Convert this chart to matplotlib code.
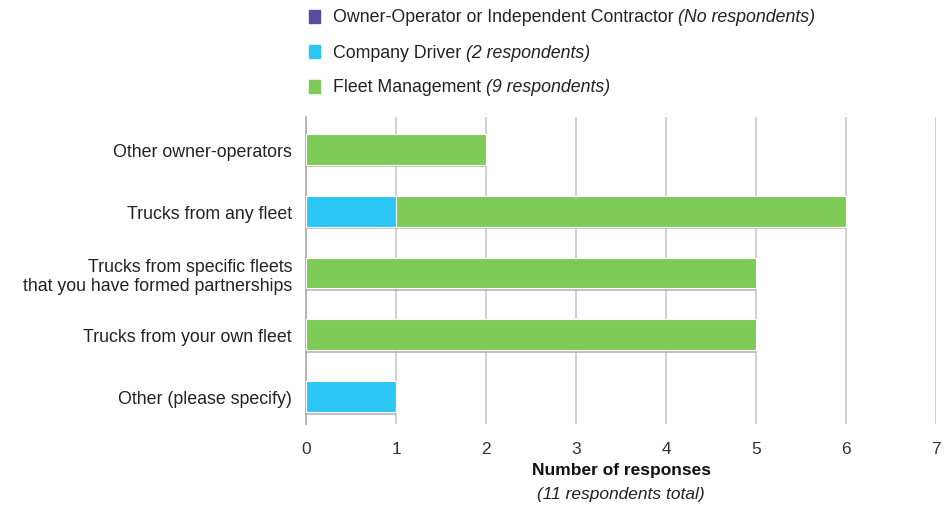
import matplotlib
matplotlib.use("Agg")
import matplotlib.pyplot as plt
import matplotlib.patheffects as pe

plt.rcParams['font.family'] = ['Liberation Sans', 'DejaVu Sans']

categories = ["Other owner-operators", "Trucks from any fleet",
              "Trucks from specific fleets\nthat you have formed partnerships",
              "Trucks from your own fleet", "Other (please specify)"]
owner_operator = [0, 0, 0, 0, 0]
company_driver = [0, 1, 0, 0, 1]
fleet_management = [2, 5, 5, 5, 0]
series_names = ["Owner-Operator or Independent Contractor", "Company Driver", "Fleet Management"]
series_notes = ["(No respondents)", "(2 respondents)", "(9 respondents)"]
colors = ["#5a4b9e", "#2cc6f5", "#7ecb58"]
xticks = [0, 1, 2, 3, 4, 5, 6, 7]

fig = plt.figure(figsize=(9.46, 5.10), dpi=100)
ax = fig.add_axes([306/946, 1-425/510, (936-306)/946, (425-118)/510])

y = list(range(len(categories)))
left = [0]*len(categories)
shadow = [pe.SimplePatchShadow(offset=(0, -2), shadow_rgbFace="#9a9a9a", alpha=0.6), pe.Normal()]
for vals, c in zip([owner_operator, company_driver, fleet_management], colors):
    bars = ax.barh(y, vals, left=left, height=0.5, color=c, edgecolor="white", linewidth=0.8, zorder=3)
    for b, v in zip(bars, vals):
        if v > 0:
            b.set_path_effects(shadow)
    left = [l + v for l, v in zip(left, vals)]

ax.set_xlim(0, 7)
ax.set_ylim(4.44, -0.52)
ax.set_xticks(xticks)
ax.set_xticklabels([str(t) for t in xticks], fontsize=12.5, color="#333333")
ax.set_yticks(y)
ax.set_yticklabels(categories, fontsize=12.8, color="#222222", linespacing=1.15)
ax.tick_params(axis='both', length=0, pad=10)
ax.tick_params(axis='x', pad=12)
ax.grid(axis='x', color="#c8c8c8", linewidth=1.2, zorder=0)
for s in ["top", "right", "bottom"]:
    ax.spines[s].set_visible(False)
ax.spines["left"].set_color("#aaaaaa")
ax.spines["left"].set_linewidth(1.2)

fig.text(621/946, 1-471/510, "Number of responses", ha="center", va="center",
         fontsize=12.5, fontweight="bold", color="#111111")
fig.text(621/946, 1-495/510, "(11 respondents total)", ha="center", va="center",
         fontsize=12.5, style="italic", color="#222222")

# legend
leg_y = [18, 53, 88]
for yy, name, note, c in zip(leg_y, series_names, series_notes, colors):
    yf = 1 - yy/510
    fig.patches.append(plt.Rectangle((309/946, yf - 6/510), 11/946, 13/510,
                                     transform=fig.transFigure, color=c, figure=fig))
    t = fig.text(333/946, yf, name + " ", ha="left", va="center", fontsize=12.8, color="#222222")
    fig.canvas.draw()
    bb = t.get_window_extent()
    fig.text(bb.x1/946, yf, note, ha="left", va="center", fontsize=12.8, style="italic", color="#222222")

fig.savefig("out.png", dpi=100)
